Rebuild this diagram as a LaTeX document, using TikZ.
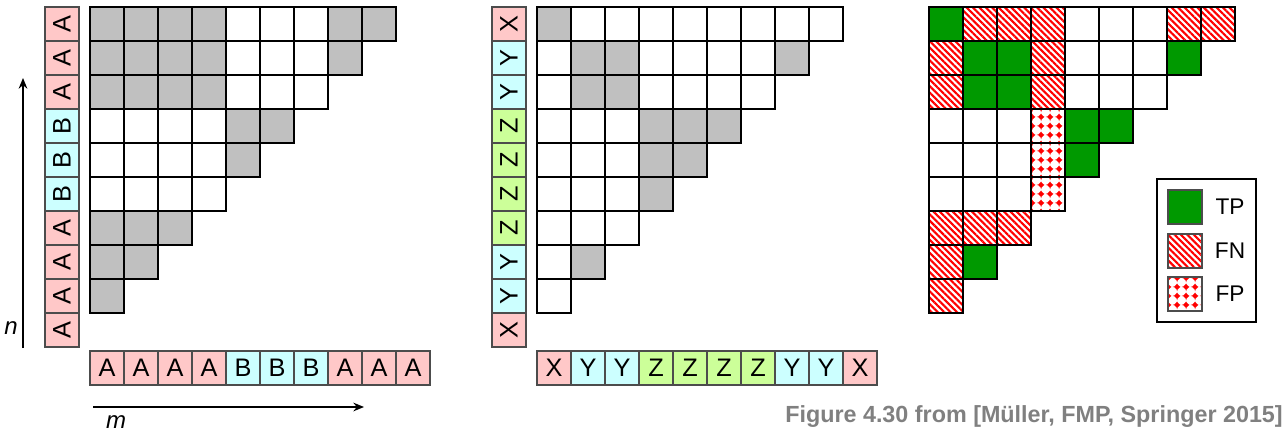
\documentclass[tikz,border=0pt]{standalone}
\usepackage{fontspec}
\setmainfont{Liberation Sans}
\usepackage{xcolor}
\usetikzlibrary{arrows.meta, positioning, patterns, patterns.meta}

\definecolor{pinkc}{RGB}{255,200,200}
\definecolor{cyanc}{RGB}{204,255,255}
\definecolor{greenc}{RGB}{204,255,153}
\definecolor{cellgray}{RGB}{192,192,192}
\definecolor{tpgreen}{RGB}{0,153,0}
\definecolor{capgray}{RGB}{128,128,128}

% red diamonds on a dotted grid (false positives)
\pgfdeclarepatternformonly{reddots}{\pgfqpoint{0pt}{0pt}}{\pgfqpoint{6.375pt}{6.375pt}}{\pgfqpoint{6.375pt}{6.375pt}}{
  \pgfpathmoveto{\pgfqpoint{3.19pt}{0.75pt}}
  \pgfpathlineto{\pgfqpoint{5.63pt}{3.19pt}}
  \pgfpathlineto{\pgfqpoint{3.19pt}{5.63pt}}
  \pgfpathlineto{\pgfqpoint{0.75pt}{3.19pt}}
  \pgfpathclose
  \pgfusepath{fill}
  \pgfsetlinewidth{0.4pt}
  \pgfsetdash{{0.6pt}{0.6pt}}{0pt}
  \pgfpathmoveto{\pgfqpoint{0pt}{3.19pt}}\pgfpathlineto{\pgfqpoint{6.375pt}{3.19pt}}
  \pgfpathmoveto{\pgfqpoint{3.19pt}{0pt}}\pgfpathlineto{\pgfqpoint{3.19pt}{6.375pt}}
  \pgfusepath{stroke}
}

% label codes: A=1, B=2 / X=1, Y=2, Z=3
\def\seqL{{1,1,1,1,2,2,2,1,1,1}}
\def\seqM{{1,2,2,3,3,3,3,2,2,1}}

\begin{document}
\begin{tikzpicture}[x=0.75pt, y=-0.75pt,
cell/.style={rectangle, draw=black, line width=1.1pt, minimum size=25.5pt, inner sep=0pt},
lab/.style={rectangle, draw=black!70, line width=0.8pt, minimum size=25.5pt, inner sep=0pt, font=\fontsize{19}{19}\selectfont},
tp/.style={fill=tpgreen},
fn/.style={pattern={Lines[angle=-45, distance=3.4pt, line width=1.6pt]}, pattern color=red},
fp/.style={pattern=reddots, pattern color=red},
kind/.code={\ifcase#1\relax\pgfkeysalso{fill=white}\or\pgfkeysalso{fn}\or\pgfkeysalso{fp}\or\pgfkeysalso{tp}\or\pgfkeysalso{fill=cellgray}\fi},
axis/.style={line width=1.2pt, -{Stealth[length=8pt, width=6.5pt]}},
varlab/.style={inner sep=0pt, font=\itshape\fontsize{18}{18}\selectfont},
keytext/.style={inner sep=0pt, font=\fontsize{17}{17}\selectfont}
]
	\useasboundingbox (0,0) rectangle (1287,445);

	% the three triangular matrices: 0 = A/B, 1 = X/Y/Z, 2 = comparison
	\foreach \mat/\xo in {0/90, 1/537, 2/929} {
		\foreach \r in {0,...,8} {
			\pgfmathtruncatemacro{\last}{8-\r}
			\foreach \c in {0,...,\last} {
				\pgfmathtruncatemacro{\sameL}{\seqL[\c]==\seqL[9-\r]}
				\pgfmathtruncatemacro{\sameM}{\seqM[\c]==\seqM[9-\r]}
				\pgfmathtruncatemacro{\k}{\mat==0 ? 4*\sameL : (\mat==1 ? 4*\sameM : \sameL+2*\sameM)}
				\node[cell, kind=\k] (c\mat-\r-\c) at (\xo+34*\c+17, 7+34*\r+17) {};
			}
		}
	}

	% labels of the first sequence
	\foreach \i/\t/\f in {0/A/pinkc, 1/A/pinkc, 2/A/pinkc, 3/A/pinkc, 4/B/cyanc, 5/B/cyanc, 6/B/cyanc, 7/A/pinkc, 8/A/pinkc, 9/A/pinkc} {
		\node[lab, fill=\f] (lb-\i) at (90+34*\i+17, 368) {\t};
		\node[lab, fill=\f, rotate=90] (ll-\i) at (62, 7+34*9-34*\i+17) {\t};
	}
	% labels of the second sequence
	\foreach \i/\t/\f in {0/X/pinkc, 1/Y/cyanc, 2/Y/cyanc, 3/Z/greenc, 4/Z/greenc, 5/Z/greenc, 6/Z/greenc, 7/Y/cyanc, 8/Y/cyanc, 9/X/pinkc} {
		\node[lab, fill=\f] (mb-\i) at (537+34*\i+17, 368) {\t};
		\node[lab, fill=\f, rotate=90] (ml-\i) at (509, 7+34*9-34*\i+17) {\t};
	}

	% axes
	\coordinate (n0) at (23,348);
	\coordinate (n1) at (23,78);
	\coordinate (m0) at (93,407);
	\coordinate (m1) at (364,407);
	\draw[axis] (n0) -- (n1);
	\draw[axis] (m0) -- (m1);
	\node[varlab] (nlab) at (11,328) {n};
	\node[varlab] (mlab) at (116,422) {m};

	% legend
	\node[rectangle, draw=black, line width=1.1pt, minimum width=74.25pt, minimum height=107.25pt, inner sep=0pt] (legend) at (1206.5,250.5) {};
	\node[lab, tp] (ktp) at (1185,207) {};
	\node[lab, fn] (kfn) at (1185,251) {};
	\node[lab, fp] (kfp) at (1185,294) {};
	\node[keytext] (ttp) at (1230,207) {TP};
	\node[keytext] (tfn) at (1230,251) {FN};
	\node[keytext] (tfp) at (1230,294) {FP};

	\node[anchor=base east, inner sep=0pt, text=capgray, font=\bfseries\fontsize{17.5}{17.5}\selectfont] (caption) at (1283,422) {Figure 4.30 from [Müller, FMP, Springer 2015]};
\end{tikzpicture}
\end{document}
